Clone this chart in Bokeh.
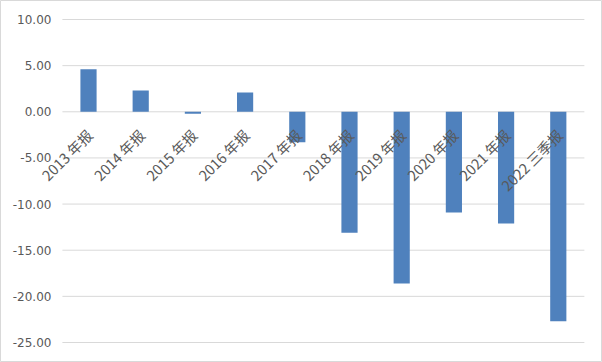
from bokeh.plotting import figure
from bokeh.models import ColumnDataSource, Range1d
from bokeh.core.properties import value
from bokeh.embed import file_html
from bokeh.resources import INLINE

categories = ["2013 年报", "2014 年报", "2015 年报", "2016 年报", "2017 年报",
              "2018 年报", "2019 年报", "2020 年报", "2021 年报", "2022 三季报"]
values = [4.6, 2.3, -0.2, 2.1, -3.3, -13.1, -18.6, -10.9, -12.1, -22.7]
y_ticks = [10, 5, 0, -5, -10, -15, -20, -25]
y_tick_labels = ["10.00", "5.00", "0.00", "-5.00", "-10.00", "-15.00", "-20.00", "-25.00"]

n = len(categories)
idx = list(range(n))
src = ColumnDataSource(dict(x=idx, cat=categories, val=values, zero=[0] * n))

# plot area spans categories -0.5 .. n-0.5 and y -25 .. 10; canvas adds room for labels
p = figure(width=602, height=362, output_backend="svg", toolbar_location=None,
           x_range=Range1d(-1.686, n - 0.153), y_range=Range1d(-27.167, 12.059),
           min_border=0)
p.axis.visible = False
p.grid.visible = False
p.outline_line_color = "#D9D9D9"
p.outline_line_width = 1
p.background_fill_color = "white"
p.border_fill_color = "white"

grid_src = ColumnDataSource(dict(y=y_ticks, lab=y_tick_labels,
                                 x0=[-0.5] * len(y_ticks), x1=[n - 0.5] * len(y_ticks)))
p.segment(x0="x0", x1="x1", y0="y", y1="y", source=grid_src,
          line_color="#D9D9D9", line_width=1)

p.vbar(x="x", top="val", width=0.31, source=src, color="#4F81BD", line_color=None)

p.text(x="x0", y="y", text="lab", source=grid_src, text_align="right",
       text_baseline="middle", x_offset=-11, y_offset=0,
       text_font=value("DejaVu Sans"), text_font_size="12px", text_color="#595959")

p.text(x="x", y="zero", text="cat", source=src, angle=0.785398,
       text_align="right", text_baseline="middle", x_offset=1, y_offset=20,
       text_font=value("Noto Sans CJK SC"), text_font_size="14.5px", text_color="#595959")

open("out.html", "w").write(file_html(p, INLINE))
